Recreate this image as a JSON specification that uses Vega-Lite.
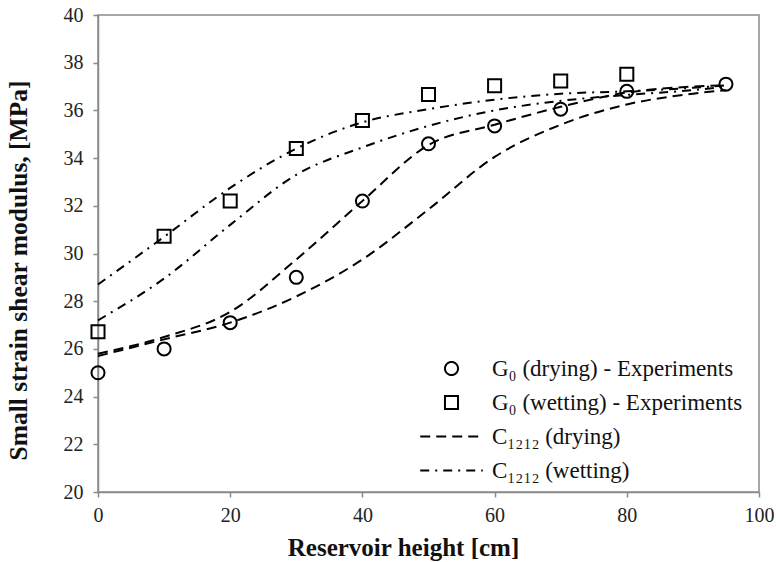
{
  "$schema": "https://vega.github.io/schema/vega-lite/v6.json",
  "width": 661,
  "height": 477,
  "autosize": {"type": "none"},
  "padding": {"left": 98, "top": 15, "right": 17, "bottom": 70},
  "background": "white",
  "config": {
    "view": {"stroke": "#8a8a8a", "strokeWidth": 1.5},
    "font": "Liberation Serif",
    "axis": {
      "grid": false,
      "domainColor": "#8a8a8a",
      "domainWidth": 1.5,
      "tickColor": "#8a8a8a",
      "tickWidth": 1.5,
      "tickSize": 5,
      "labelFont": "Liberation Serif",
      "labelFontSize": 20,
      "labelColor": "#222222",
      "labelFlush": false,
      "labelOverlap": false,
      "titleFont": "Liberation Serif",
      "titleFontSize": 25,
      "titleFontWeight": "bold",
      "titleColor": "#111111"
    }
  },
  "data": {
    "values": [
      {"kind": "model", "series": "C₁₂₁₂ (drying)", "curve": "dryA", "h": 0, "g": 25.8},
      {"kind": "model", "series": "C₁₂₁₂ (drying)", "curve": "dryA", "h": 10, "g": 26.5},
      {"kind": "model", "series": "C₁₂₁₂ (drying)", "curve": "dryA", "h": 20, "g": 27.55},
      {"kind": "model", "series": "C₁₂₁₂ (drying)", "curve": "dryA", "h": 30, "g": 29.75},
      {"kind": "model", "series": "C₁₂₁₂ (drying)", "curve": "dryA", "h": 40, "g": 32.2},
      {"kind": "model", "series": "C₁₂₁₂ (drying)", "curve": "dryA", "h": 50, "g": 34.55},
      {"kind": "model", "series": "C₁₂₁₂ (drying)", "curve": "dryA", "h": 60, "g": 35.4},
      {"kind": "model", "series": "C₁₂₁₂ (drying)", "curve": "dryA", "h": 70, "g": 36.15},
      {"kind": "model", "series": "C₁₂₁₂ (drying)", "curve": "dryA", "h": 80, "g": 36.75},
      {"kind": "model", "series": "C₁₂₁₂ (drying)", "curve": "dryA", "h": 90, "g": 37.0},
      {"kind": "model", "series": "C₁₂₁₂ (drying)", "curve": "dryA", "h": 95, "g": 37.05},
      {"kind": "model", "series": "C₁₂₁₂ (drying)", "curve": "dryB", "h": 0, "g": 25.7},
      {"kind": "model", "series": "C₁₂₁₂ (drying)", "curve": "dryB", "h": 10, "g": 26.4},
      {"kind": "model", "series": "C₁₂₁₂ (drying)", "curve": "dryB", "h": 20, "g": 27.1},
      {"kind": "model", "series": "C₁₂₁₂ (drying)", "curve": "dryB", "h": 30, "g": 28.2},
      {"kind": "model", "series": "C₁₂₁₂ (drying)", "curve": "dryB", "h": 40, "g": 29.75},
      {"kind": "model", "series": "C₁₂₁₂ (drying)", "curve": "dryB", "h": 50, "g": 31.85},
      {"kind": "model", "series": "C₁₂₁₂ (drying)", "curve": "dryB", "h": 60, "g": 34.05},
      {"kind": "model", "series": "C₁₂₁₂ (drying)", "curve": "dryB", "h": 70, "g": 35.4},
      {"kind": "model", "series": "C₁₂₁₂ (drying)", "curve": "dryB", "h": 80, "g": 36.25},
      {"kind": "model", "series": "C₁₂₁₂ (drying)", "curve": "dryB", "h": 90, "g": 36.7},
      {"kind": "model", "series": "C₁₂₁₂ (drying)", "curve": "dryB", "h": 95, "g": 36.85},
      {"kind": "model", "series": "C₁₂₁₂ (wetting)", "curve": "wetA", "h": 0, "g": 28.7},
      {"kind": "model", "series": "C₁₂₁₂ (wetting)", "curve": "wetA", "h": 10, "g": 30.7},
      {"kind": "model", "series": "C₁₂₁₂ (wetting)", "curve": "wetA", "h": 20, "g": 32.75},
      {"kind": "model", "series": "C₁₂₁₂ (wetting)", "curve": "wetA", "h": 30, "g": 34.4},
      {"kind": "model", "series": "C₁₂₁₂ (wetting)", "curve": "wetA", "h": 40, "g": 35.5},
      {"kind": "model", "series": "C₁₂₁₂ (wetting)", "curve": "wetA", "h": 50, "g": 36.05},
      {"kind": "model", "series": "C₁₂₁₂ (wetting)", "curve": "wetA", "h": 60, "g": 36.45},
      {"kind": "model", "series": "C₁₂₁₂ (wetting)", "curve": "wetA", "h": 70, "g": 36.7},
      {"kind": "model", "series": "C₁₂₁₂ (wetting)", "curve": "wetA", "h": 80, "g": 36.8},
      {"kind": "model", "series": "C₁₂₁₂ (wetting)", "curve": "wetA", "h": 90, "g": 36.95},
      {"kind": "model", "series": "C₁₂₁₂ (wetting)", "curve": "wetA", "h": 95, "g": 37.05},
      {"kind": "model", "series": "C₁₂₁₂ (wetting)", "curve": "wetB", "h": 0, "g": 27.2},
      {"kind": "model", "series": "C₁₂₁₂ (wetting)", "curve": "wetB", "h": 10, "g": 28.95},
      {"kind": "model", "series": "C₁₂₁₂ (wetting)", "curve": "wetB", "h": 20, "g": 31.2},
      {"kind": "model", "series": "C₁₂₁₂ (wetting)", "curve": "wetB", "h": 30, "g": 33.3},
      {"kind": "model", "series": "C₁₂₁₂ (wetting)", "curve": "wetB", "h": 40, "g": 34.45},
      {"kind": "model", "series": "C₁₂₁₂ (wetting)", "curve": "wetB", "h": 50, "g": 35.35},
      {"kind": "model", "series": "C₁₂₁₂ (wetting)", "curve": "wetB", "h": 60, "g": 36.0},
      {"kind": "model", "series": "C₁₂₁₂ (wetting)", "curve": "wetB", "h": 70, "g": 36.4},
      {"kind": "model", "series": "C₁₂₁₂ (wetting)", "curve": "wetB", "h": 80, "g": 36.65},
      {"kind": "model", "series": "C₁₂₁₂ (wetting)", "curve": "wetB", "h": 90, "g": 36.85},
      {"kind": "model", "series": "C₁₂₁₂ (wetting)", "curve": "wetB", "h": 95, "g": 37.0},
      {"kind": "exp", "series": "G₀ (drying) - Experiments", "curve": "d", "h": 0, "g": 25.0},
      {"kind": "exp", "series": "G₀ (drying) - Experiments", "curve": "d", "h": 10, "g": 26.0},
      {"kind": "exp", "series": "G₀ (drying) - Experiments", "curve": "d", "h": 20, "g": 27.1},
      {"kind": "exp", "series": "G₀ (drying) - Experiments", "curve": "d", "h": 30, "g": 29.0},
      {"kind": "exp", "series": "G₀ (drying) - Experiments", "curve": "d", "h": 40, "g": 32.2},
      {"kind": "exp", "series": "G₀ (drying) - Experiments", "curve": "d", "h": 50, "g": 34.6},
      {"kind": "exp", "series": "G₀ (drying) - Experiments", "curve": "d", "h": 60, "g": 35.35},
      {"kind": "exp", "series": "G₀ (drying) - Experiments", "curve": "d", "h": 70, "g": 36.05},
      {"kind": "exp", "series": "G₀ (drying) - Experiments", "curve": "d", "h": 80, "g": 36.8},
      {"kind": "exp", "series": "G₀ (drying) - Experiments", "curve": "d", "h": 95, "g": 37.1},
      {"kind": "exp", "series": "G₀ (wetting) - Experiments", "curve": "w", "h": 0, "g": 26.72},
      {"kind": "exp", "series": "G₀ (wetting) - Experiments", "curve": "w", "h": 10, "g": 30.72},
      {"kind": "exp", "series": "G₀ (wetting) - Experiments", "curve": "w", "h": 20, "g": 32.2},
      {"kind": "exp", "series": "G₀ (wetting) - Experiments", "curve": "w", "h": 30, "g": 34.4},
      {"kind": "exp", "series": "G₀ (wetting) - Experiments", "curve": "w", "h": 40, "g": 35.58},
      {"kind": "exp", "series": "G₀ (wetting) - Experiments", "curve": "w", "h": 50, "g": 36.67},
      {"kind": "exp", "series": "G₀ (wetting) - Experiments", "curve": "w", "h": 60, "g": 37.03},
      {"kind": "exp", "series": "G₀ (wetting) - Experiments", "curve": "w", "h": 70, "g": 37.23},
      {"kind": "exp", "series": "G₀ (wetting) - Experiments", "curve": "w", "h": 80, "g": 37.52}
    ]
  },
  "layer": [
    {
      "transform": [{"filter": "datum.kind == 'model'"}],
      "mark": {"type": "line", "color": "black", "strokeWidth": 2, "interpolate": "monotone"},
      "encoding": {
        "x": {
          "field": "h", "type": "quantitative",
          "scale": {"domain": [0, 100], "nice": false, "zero": false},
          "axis": {"values": [0, 20, 40, 60, 80, 100], "title": "Reservoir height [cm]", "labelPadding": 8, "titleX": 305, "titleY": 63, "titleBaseline": "alphabetic", "titleAlign": "center"}
        },
        "y": {
          "field": "g", "type": "quantitative",
          "scale": {"domain": [20, 40], "nice": false, "zero": false},
          "axis": {"values": [20, 22, 24, 26, 28, 30, 32, 34, 36, 38, 40], "title": "Small strain shear modulus, [MPa]", "labelPadding": 10, "titleX": -71.5, "titleY": 255, "titleAngle": -90, "titleBaseline": "alphabetic", "titleAlign": "center", "titleFontSize": 25.5}
        },
        "detail": {"field": "curve", "type": "nominal"},
        "strokeDash": {
          "field": "series", "type": "nominal",
          "scale": {
            "domain": ["G₀ (drying) - Experiments", "G₀ (wetting) - Experiments", "C₁₂₁₂ (drying)", "C₁₂₁₂ (wetting)"],
            "range": [[1, 0], [1, 0], [10, 6], [9, 6, 2, 6]]
          },
          "legend": {"title": null, "orient": "none", "legendX": 317, "legendY": 342, "padding": 0, "labelFont": "Liberation Serif", "labelFontSize": 23, "labelColor": "#111111", "labelLimit": 0, "symbolSize": 170, "symbolStrokeWidth": 2, "symbolStrokeColor": "black", "symbolFillColor": "transparent", "symbolOffset": 25, "labelOffset": 29, "rowPadding": 10}
        }
      }
    },
    {
      "transform": [{"filter": "datum.kind == 'exp'"}],
      "mark": {"type": "point", "filled": false, "color": "black", "strokeWidth": 2, "size": 170, "opacity": 1},
      "encoding": {
        "x": {"field": "h", "type": "quantitative"},
        "y": {"field": "g", "type": "quantitative"},
        "shape": {
          "field": "series", "type": "nominal",
          "scale": {
            "domain": ["G₀ (drying) - Experiments", "G₀ (wetting) - Experiments", "C₁₂₁₂ (drying)", "C₁₂₁₂ (wetting)"],
            "range": ["circle", "square", "M-4.8,0H4.8", "M-4.8,0H4.8"]
          },
          "legend": {"title": null, "orient": "none", "legendX": 317, "legendY": 342, "padding": 0, "labelFont": "Liberation Serif", "labelFontSize": 23, "labelColor": "#111111", "labelLimit": 0, "symbolSize": 170, "symbolStrokeWidth": 2, "symbolStrokeColor": "black", "symbolFillColor": "transparent", "symbolOffset": 25, "labelOffset": 29, "rowPadding": 10}
        }
      }
    }
  ]
}
